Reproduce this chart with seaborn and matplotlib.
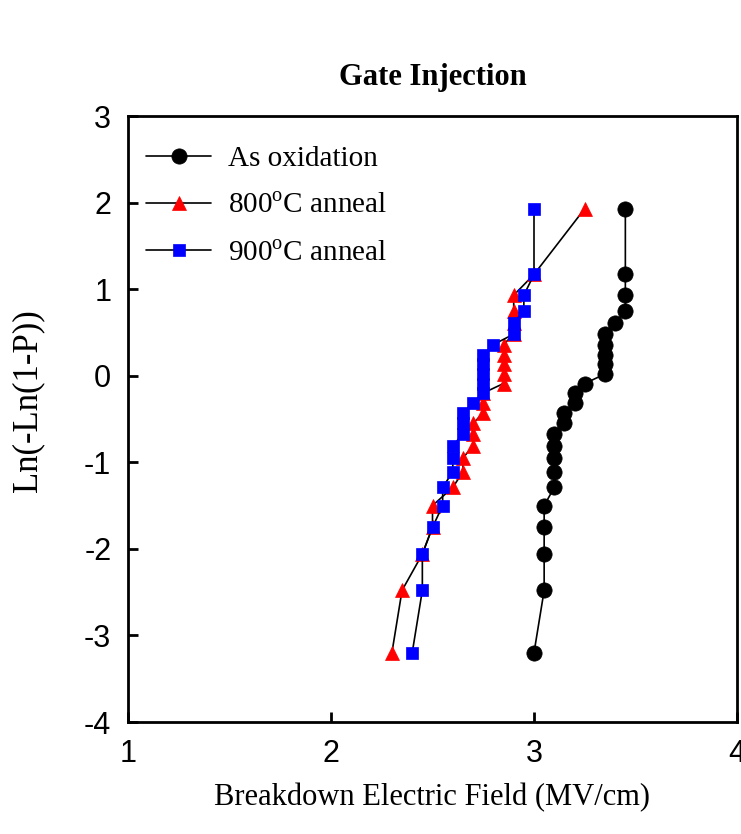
import numpy as np
import matplotlib
matplotlib.use("Agg")
import matplotlib.pyplot as plt
import pandas as pd
import seaborn as sns

# dados (Weibull: Ln(-Ln(1-P)) x campo de ruptura)
ln_p = [-3.20, -2.48, -2.06, -1.75, -1.50, -1.29, -1.11, -0.95, -0.81, -0.67,
        -0.55, -0.43, -0.31, -0.20, -0.09, 0.02, 0.13, 0.24, 0.36, 0.48,
        0.61, 0.75, 0.93, 1.17, 1.93]

campo_oxid = [3.00, 3.05, 3.05, 3.05, 3.05, 3.10, 3.10, 3.10, 3.10, 3.10,
              3.15, 3.15, 3.20, 3.20, 3.25, 3.35, 3.35, 3.35, 3.35, 3.35,
              3.40, 3.45, 3.45, 3.45, 3.45]
campo_800 = [2.30, 2.35, 2.45, 2.50, 2.50, 2.60, 2.65, 2.65, 2.70, 2.70,
             2.70, 2.75, 2.75, 2.75, 2.85, 2.85, 2.85, 2.85, 2.85, 2.90,
             2.90, 2.90, 2.90, 3.00, 3.25]
campo_900 = [2.40, 2.45, 2.45, 2.50, 2.55, 2.55, 2.60, 2.60, 2.60, 2.65,
             2.65, 2.65, 2.70, 2.75, 2.75, 2.75, 2.75, 2.75, 2.80, 2.90,
             2.90, 2.95, 2.95, 3.00, 3.00]

rotulos = ["As oxidation", "800$^\\mathregular{o}$C anneal", "900$^\\mathregular{o}$C anneal"]

sns.set_style("white")
plt.rcParams['font.family'] = ['Liberation Serif', 'DejaVu Serif']
plt.rcParams['axes.unicode_minus'] = False
plt.rcParams['text.color'] = 'black'
plt.rcParams['axes.labelcolor'] = 'black'
plt.rcParams['xtick.color'] = 'black'
plt.rcParams['ytick.color'] = 'black'

fig = plt.figure(figsize=(7.41, 8.34), dpi=100)
ax = fig.add_axes([128 / 741, 112 / 834, 609 / 741, 606 / 834])

series = [(campo_oxid, 'o', 'black', 11),
          (campo_800, '^', 'red', 10.5),
          (campo_900, 's', 'blue', 9)]
for (campo, mk, cor, ms), rot in zip(series, rotulos):
    sns.lineplot(x=campo, y=ln_p, sort=False, estimator=None, ax=ax,
                 color='black', linewidth=1.2, marker=mk, markersize=ms,
                 markerfacecolor=cor, markeredgecolor=cor, markeredgewidth=0.5,
                 label=rot)

ax.set_xlim(1, 4)
ax.set_ylim(-4, 3)
ax.set_xticks([1, 2, 3, 4])
ax.set_yticks(range(-4, 4))
ax.tick_params(bottom=True, left=True, direction='in', length=7, width=2,
               labelsize=22, pad=12)
for lab in ax.get_xticklabels() + ax.get_yticklabels():
    lab.set_family(['Liberation Sans', 'DejaVu Sans'])
for sp in ax.spines.values():
    sp.set_linewidth(2)
    sp.set_color('black')

ax.set_xlabel("Breakdown Electric Field (MV/cm)", fontsize=22, labelpad=10)
ax.set_ylabel("Ln(-Ln(1-P))", fontsize=25)
ax.yaxis.set_label_coords(-0.137, 0.53)
ax.set_title("Gate Injection", fontsize=22, fontweight='bold', pad=22)

ax.legend(loc='upper left', frameon=False, fontsize=21, handlelength=2.2,
          handletextpad=0.6, labelspacing=0.72, borderaxespad=0.4,
          bbox_to_anchor=(-0.008, 0.99))

fig.savefig("out.png", dpi=100)
